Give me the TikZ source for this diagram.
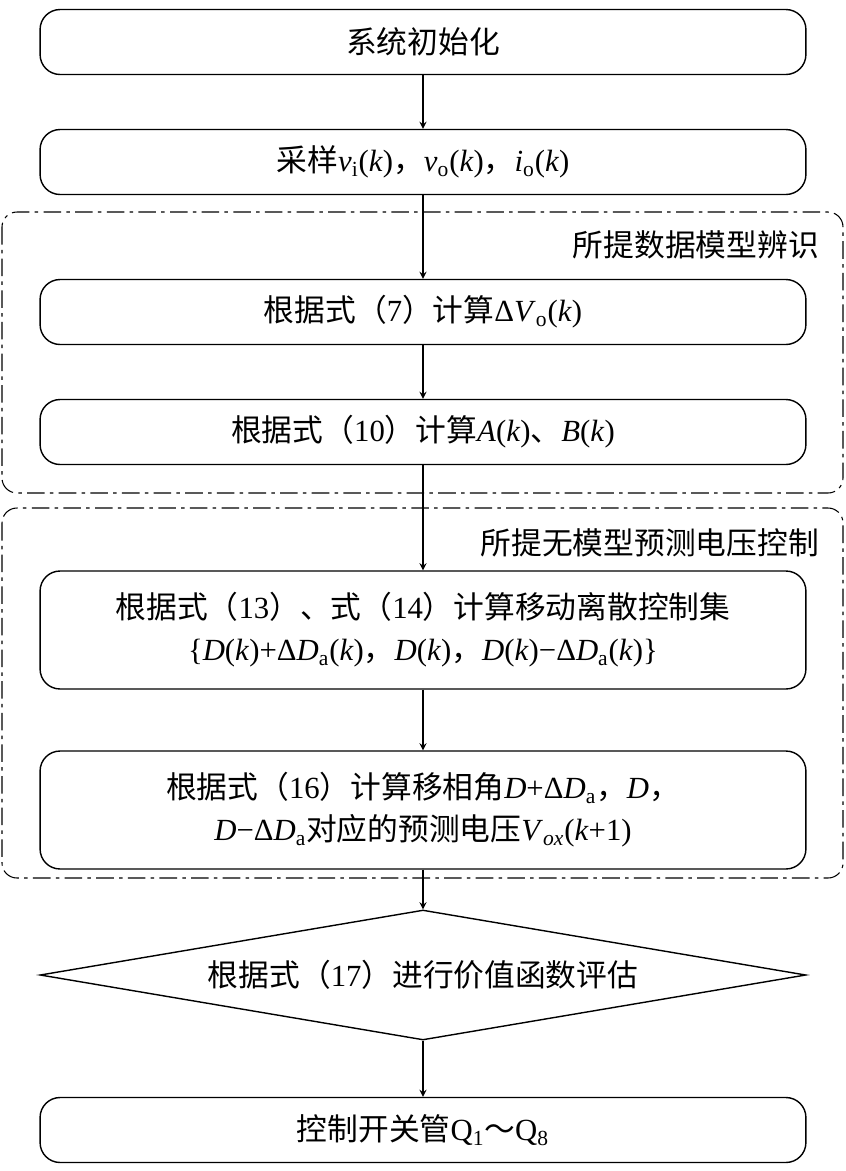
\documentclass[tikz,border=0pt]{standalone}
\usepackage{fontspec}
\setmainfont{Liberation Serif}
\newfontfamily\cjk{Noto Sans CJK SC}
\usetikzlibrary{shapes.geometric}
\newcommand{\zh}[1]{{\cjk #1}}
\newcommand{\vi}[1]{\textit{#1}}
\begin{document}
\begin{tikzpicture}[x=0.02cm,y=-0.02cm]
\tikzstyle{stepbox}=[draw,rounded corners=0.4cm,minimum width=15.32cm,align=center,line width=0.8pt,font=\fontsize{17.5}{24}\selectfont]
\tikzstyle{group}=[draw,rounded corners=0.3cm,line width=0.6pt,dash pattern=on 10pt off 3pt on 2pt off 3pt]
\tikzstyle{flow}=[->,>=stealth,line width=0.8pt]
\useasboundingbox (0,0) rectangle (846,1171);
\node [stepbox,minimum height=1.3cm] (init) at (423,42) {\zh{系统初始化}};
\node [stepbox,minimum height=1.3cm] (samp) at (423,162) {\zh{采样}\vi{v}\textsubscript{i}(\vi{k})\zh{，}\vi{v}\textsubscript{o}(\vi{k})\zh{，}\vi{i}\textsubscript{o}(\vi{k})};
\node [stepbox,minimum height=1.3cm] (dv) at (423,312) {\zh{根据式（}7\zh{）计算}Δ\vi{V}\textsubscript{o}(\vi{k})};
\node [stepbox,minimum height=1.3cm] (ab) at (423,432) {\zh{根据式（}10\zh{）计算}\vi{A}(\vi{k})\zh{、}\vi{B}(\vi{k})};
\node [stepbox,minimum height=2.36cm] (set) at (423,630) {\zh{根据式（}13\zh{）、式（}14\zh{）计算移动离散控制集}\\\{\vi{D}(\vi{k})+Δ\vi{D}\textsubscript{a}(\vi{k})\zh{，}\vi{D}(\vi{k})\zh{，}\vi{D}(\vi{k})−Δ\vi{D}\textsubscript{a}(\vi{k})\}};
\node [stepbox,minimum height=2.36cm] (pred) at (423,810) {\zh{根据式（}16\zh{）计算移相角}\vi{D}+Δ\vi{D}\textsubscript{a}\zh{，}\vi{D}\zh{，}\\\vi{D}−Δ\vi{D}\textsubscript{a}\zh{对应的预测电压}\vi{V}\textsubscript{\vi{ox}}(\vi{k}+1)};
\node [draw,diamond,line width=0.8pt,minimum width=15.32cm,minimum height=2.6cm,aspect=5.9,inner sep=0pt] (eval) at (423,975) {};
\node [font=\fontsize{17.5}{24}\selectfont] (evaltext) at (eval) {\zh{根据式（}17\zh{）进行价值函数评估}};
\node [stepbox,minimum height=1.3cm] (ctrl) at (423,1130) {\zh{控制开关管}Q\textsubscript{1}\zh{～}Q\textsubscript{8}};
\draw [group] (2,212) rectangle (843,493);
\draw [group] (2,508) rectangle (843,878);
\node [anchor=east,font=\fontsize{17.5}{24}\selectfont] (g1) at (825,245) {\zh{所提数据模型辨识}};
\node [anchor=east,font=\fontsize{17.5}{24}\selectfont] (g2) at (825,543) {\zh{所提无模型预测电压控制}};
\draw [flow] (init) -- (samp);
\draw [flow] (samp) -- (dv);
\draw [flow] (dv) -- (ab);
\draw [flow] (ab) -- (set);
\draw [flow] (set) -- (pred);
\draw [flow] (pred) -- (eval);
\draw [flow] (eval) -- (ctrl);
\end{tikzpicture}
\end{document}
